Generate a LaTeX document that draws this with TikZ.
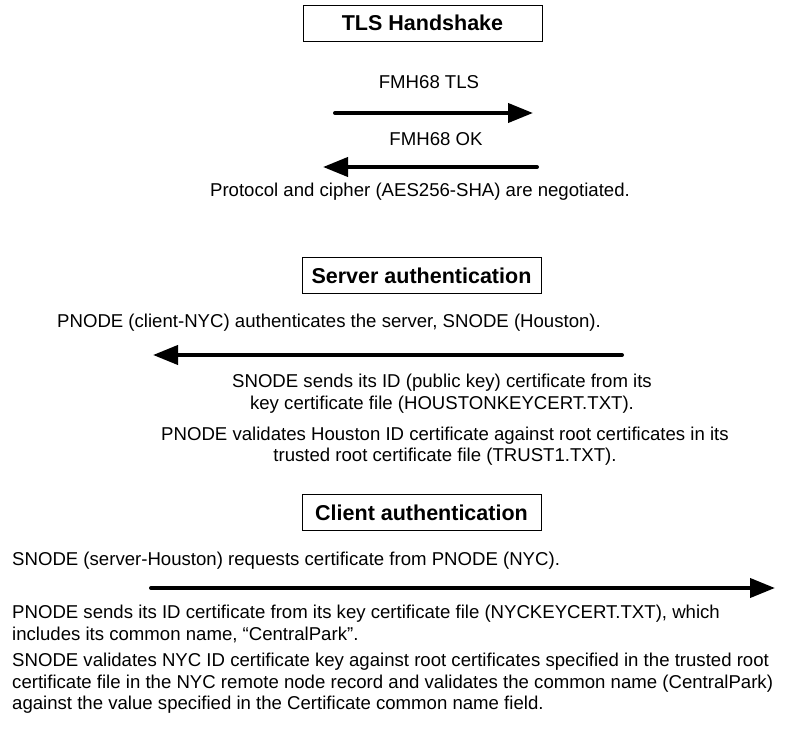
\documentclass[tikz,border=0pt]{standalone}
\usepackage{fontspec}
\setmainfont{Liberation Sans}
\usetikzlibrary{arrows.meta}
\begin{document}
\begin{tikzpicture}[x=1pt,y=-1pt,
    every node/.style={font=\fontsize{18.6}{21.5}\selectfont, inner sep=0pt},
    title/.style={draw, line width=0.8pt, font=\fontsize{21.5}{24}\selectfont\bfseries,
      minimum width=239pt, minimum height=36pt},
    msg/.style={line width=4pt, line cap=round, -{Triangle[length=25pt,width=19pt]}}]
  \useasboundingbox (0,0) rectangle (785,735);
  \node[title] (tls) at (422.5,23) {TLS Handshake};
  \node (fmhtls) at (429,82) {FMH68 TLS};
  \coordinate (tlsA) at (335,113);
  \coordinate (tlsB) at (533,113);
  \draw[msg] (tlsA) -- (tlsB);
  \node (fmhok) at (436,139) {FMH68 OK};
  \coordinate (okA) at (537,167);
  \coordinate (okB) at (323,167);
  \draw[msg] (okA) -- (okB);
  \node (proto) at (420,192) {Protocol and cipher (AES256-SHA) are negotiated.};

  \node[title] (server) at (421.5,275.5) {Server authentication};
  \node[anchor=west] (pauth) at (57,323) {PNODE (client-NYC) authenticates the server, SNODE (Houston).};
  \coordinate (srvA) at (622,355);
  \coordinate (srvB) at (153,355);
  \draw[msg] (srvA) -- (srvB);
  \node[align=center] (ssend) at (442,393.5) {SNODE sends its ID (public key) certificate from its\\
    key certificate file (HOUSTONKEYCERT.TXT).};
  \node[align=center] (pval) at (445,446) {PNODE validates Houston ID certificate against root certificates in its\\
    trusted root certificate file (TRUST1.TXT).};

  \node[title] (client) at (421.5,512.5) {Client authentication};
  \node[anchor=west] (sreq) at (12,561) {SNODE (server-Houston) requests certificate from PNODE (NYC).};
  \coordinate (cliA) at (151,588);
  \coordinate (cliB) at (775,588);
  \draw[msg] (cliA) -- (cliB);
  \node[anchor=west, align=left] (psend) at (12,624) {PNODE sends its ID certificate from its key certificate file (NYCKEYCERT.TXT), which\\
    includes its common name, ``CentralPark''.};
  \node[anchor=west, align=left] (sval) at (12,683.5) {SNODE validates NYC ID certificate key against root certificates specified in the trusted root\\
    certificate file in the NYC remote node record and validates the common name (CentralPark)\\
    against the value specified in the Certificate common name field.};
\end{tikzpicture}
\end{document}
